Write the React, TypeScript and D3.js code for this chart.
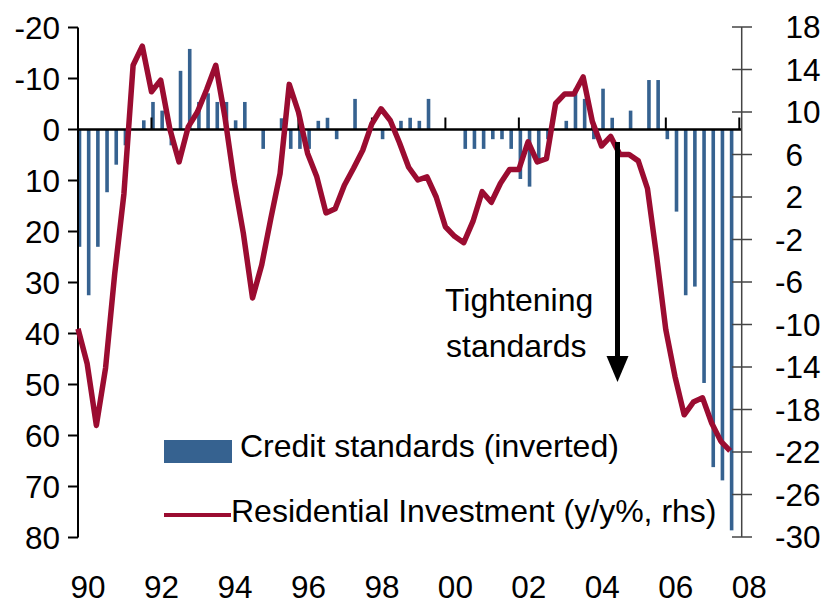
import React from "react";
import * as d3 from "d3";

// Quarterly data, 1990Q1 .. 2007Q4
const creditStandards: number[] = [
  23, 32.5, 23, 12.3, 6.9, 3.1, 0, -1.8,
  -5.4, -3.7, 3.1, -11.5, -15.8, -5.4, -7.1, -5.4,
  -5.4, -1.8, -5.4, 0, 3.8, 0, -2.2, 3.8,
  3.8, 3.8, -1.7, -2.3, 1.9, 0, -6.0, 0,
  0, 1.9, 0, -1.7, -2.3, -1.7, -6.0, 0,
  0, 0, 3.8, 3.8, 3.8, 1.9, 1.9, 3.8,
  9.7, 11.2, 6.6, 1.9, 0, -1.7, -8.0, -6.0,
  1.9, -8.0, -2.3, 0, -3.7, 0, -9.7, -9.7,
  1.9, 16.1, 32.5, 30.8, 49.7, 66.2, 68.8, 78.6,
];

const residentialInvestment: number[] = [
  -10.4, -13.7, -19.5, -14.1, -5.2, 2.3, 14.4, 16.2,
  11.9, 13.0, 8.4, 5.3, 8.6, 10.0, 12.1, 14.4,
  9.5, 3.5, -1.4, -7.5, -4.4, 0.0, 4.2, 12.6,
  10.0, 6.1, 3.9, 0.5, 0.9, 3.1, 4.7, 6.4,
  8.9, 10.3, 9.2, 7.1, 4.8, 3.6, 3.9, 2.0,
  -0.8, -1.7, -2.3, -0.3, 2.5, 1.5, 3.3, 4.6,
  4.6, 7.2, 5.3, 5.6, 10.8, 11.7, 11.7, 13.3,
  9.1, 6.8, 7.7, 6.0, 6.0, 5.4, 2.8, -3.6,
  -10.5, -14.9, -18.5, -17.3, -16.9, -19.3, -21.0, -21.9,
];

const yearLabels: string[] = ["90", "92", "94", "96", "98", "00", "02", "04", "06", "08"];
const leftTicks: number[] = [-20, -10, 0, 10, 20, 30, 40, 50, 60, 70, 80];
const rightTicks: number[] = [18, 14, 10, 6, 2, -2, -6, -10, -14, -18, -22, -26, -30];

const BAR = "#366290";
const LINE = "#9b0c31";
const FONT = "'Liberation Sans', Arial, sans-serif";
const FS = 31.5;
const FS_LEG = 32;

export default function App() {
  const x = d3.scaleLinear().domain([0, 72]).range([78, 739.3]);
  const yL = d3.scaleLinear().domain([-20, 80]).range([27.5, 537.5]);
  const yR = d3.scaleLinear().domain([18, -30]).range([27, 537]);

  const line = d3
    .line<number>()
    .x((_, i) => x(i))
    .y((d) => yR(d));

  const barW = 3.6;
  const minusW = 0.333 * FS;

  return (
    <svg
      width={834}
      height={608}
      style={{ position: "absolute", left: 0, top: 0, background: "#fff" }}
      fontFamily={FONT}
    >
      {/* bars */}
      {creditStandards.map((v, i) =>
        v === 0 ? null : (
          <rect
            key={"b" + i}
            x={x(i) + 1.5 - barW / 2}
            y={Math.min(yL(0), yL(v))}
            width={barW}
            height={Math.abs(yL(v) - yL(0))}
            fill={BAR}
          />
        )
      )}

      {/* zero line */}
      <line x1={78} x2={742} y1={yL(0)} y2={yL(0)} stroke="#000" strokeWidth={2.5} />
      {/* year ticks on zero line */}
      {yearLabels.map((_, k) =>
        k === 0 ? null : (
          <line
            key={"yt" + k}
            x1={x(k * 8)}
            x2={x(k * 8)}
            y1={yL(0) - 12}
            y2={yL(0)}
            stroke="#000"
            strokeWidth={2}
          />
        )
      )}

      {/* left axis */}
      <line x1={78} x2={78} y1={yL(-20)} y2={yL(80)} stroke="#000" strokeWidth={2} />
      {leftTicks.map((t) => (
        <g key={"lt" + t}>
          <line x1={68} x2={78} y1={yL(t)} y2={yL(t)} stroke="#000" strokeWidth={2} />
          <text x={60} y={yL(t) + 11} textAnchor="end" fontSize={FS} fill="#000">
            {t}
          </text>
        </g>
      ))}

      {/* right axis */}
      <line x1={741.7} x2={741.7} y1={yR(18)} y2={yR(-30)} stroke="#444" strokeWidth={1.5} />
      {rightTicks.map((t) => (
        <g key={"rt" + t}>
          <line x1={732} x2={752} y1={yR(t)} y2={yR(t)} stroke="#444" strokeWidth={1.5} />
          <text x={t < 0 ? 775 : 775 + minusW} y={yR(t) + 11} textAnchor="start" fontSize={FS} fill="#000">
            {t}
          </text>
        </g>
      ))}

      {/* x labels */}
      {yearLabels.map((lab, k) => (
        <text key={"xl" + k} x={x(k * 8) + 10} y={598} textAnchor="middle" fontSize={FS} fill="#000">
          {lab}
        </text>
      ))}

      {/* residential investment line */}
      <path d={line(residentialInvestment) || ""} fill="none" stroke={LINE} strokeWidth={5.5} strokeLinejoin="round" />

      {/* annotation */}
      <text x={445} y={311} fontSize={FS_LEG} fill="#000">Tightening</text>
      <text x={446} y={357} fontSize={FS_LEG} fill="#000">standards</text>
      <line x1={617.5} x2={617.5} y1={142} y2={360} stroke="#000" strokeWidth={5} />
      <polygon points="606.5,356 628.5,356 617.5,382" fill="#000" />

      {/* legend */}
      <rect x={164} y={440} width={68} height={23} fill={BAR} />
      <text x={240} y={457} fontSize={FS_LEG} fill="#000">Credit standards (inverted)</text>
      <line x1={164} x2={231} y1={515} y2={515} stroke={LINE} strokeWidth={4} />
      <text x={231} y={522} fontSize={FS_LEG} fill="#000">Residential Investment (y/y%, rhs)</text>
    </svg>
  );
}
